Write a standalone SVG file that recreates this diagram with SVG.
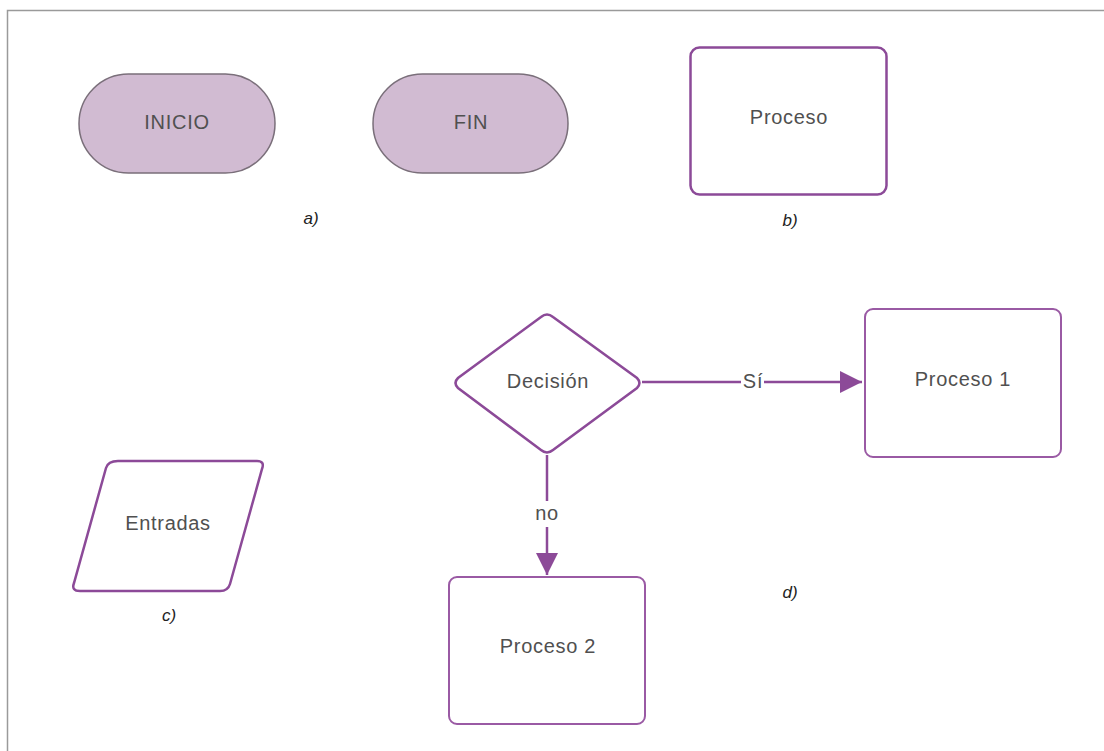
<svg xmlns="http://www.w3.org/2000/svg" width="1104" height="751" viewBox="0 0 1104 751">
<defs>
<style>
.t{font-family:"Liberation Sans",Arial,sans-serif;font-size:20px;letter-spacing:0.7px;fill:#505050;text-anchor:middle;dominant-baseline:central}
.lbl{font-family:"Liberation Sans",Arial,sans-serif;font-size:17px;fill:#222;font-style:italic;text-anchor:middle;dominant-baseline:central}
.term{fill:#d1bbd2;stroke:#7a6f7a;stroke-width:1.5}
.box{fill:#fff;stroke:#8c4a98;stroke-width:2.5}
.box2{fill:#fff;stroke:#9a5aa4;stroke-width:2}
.conn{stroke:#8c4a98;stroke-width:2.5;fill:none}
</style>
<marker id="ah2" viewBox="0 0 10 10" refX="10" refY="5" markerWidth="22" markerHeight="22" markerUnits="userSpaceOnUse" orient="auto">
<path d="M0,0 L10,5 L0,10 z" fill="#8c4a98"/>
</marker>
</defs>
<rect width="1104" height="751" fill="#fff"/>
<path d="M7.5,751 V10.5 H1104" fill="none" stroke="#9a9a9a" stroke-width="1.5"/>

<g id="inicio">
<rect class="term" x="79" y="74" width="196" height="99" rx="49.5"/>
<text class="t" x="177" y="122">INICIO</text>
</g>
<g id="fin">
<rect class="term" x="373" y="74" width="195" height="99" rx="49.5"/>
<text class="t" x="471" y="122">FIN</text>
</g>
<text class="lbl" x="311" y="218">a)</text>

<g id="proceso">
<rect class="box" x="690.5" y="47.5" width="196" height="147" rx="9" stroke-width="3"/>
<text class="t" x="789" y="117">Proceso</text>
</g>
<text class="lbl" x="790" y="220">b)</text>

<g id="entradas">
<path class="box" d="M118,461 H257 Q265,461 262,469 L230,584 Q228,591 220,591 H80 Q71,591 74,583 L106,468 Q108,461 118,461 Z" stroke-width="3"/>
<text class="t" x="168" y="523">Entradas</text>
</g>
<text class="lbl" x="169" y="615">c)</text>

<g id="decision">
<path class="box" d="M541,317 Q547,312 553,317 L637,378 Q642,383 637,388 L553,450 Q547,455 541,450 L458,388 Q453,383 458,378 Z"/>
<text class="t" x="548" y="381">Decisión</text>
</g>

<g id="proceso1">
<rect class="box2" x="865" y="309" width="196" height="148" rx="8"/>
<text class="t" x="963" y="379">Proceso 1</text>
</g>

<g id="proceso2">
<rect class="box2" x="449" y="577" width="196" height="147" rx="8"/>
<text class="t" x="548" y="646">Proceso 2</text>
</g>
<text class="lbl" x="790" y="592">d)</text>

<g id="connectors">
<line class="conn" x1="642" y1="382" x2="862" y2="382" marker-end="url(#ah2)"/>
<rect x="741" y="370" width="23" height="22" fill="#fff"/>
<text class="t" x="753" y="381">Sí</text>
<line class="conn" x1="547" y1="455" x2="547" y2="575" marker-end="url(#ah2)"/>
<rect x="532" y="501" width="30" height="26" fill="#fff"/>
<text class="t" x="547" y="513">no</text>
</g>
</svg>
